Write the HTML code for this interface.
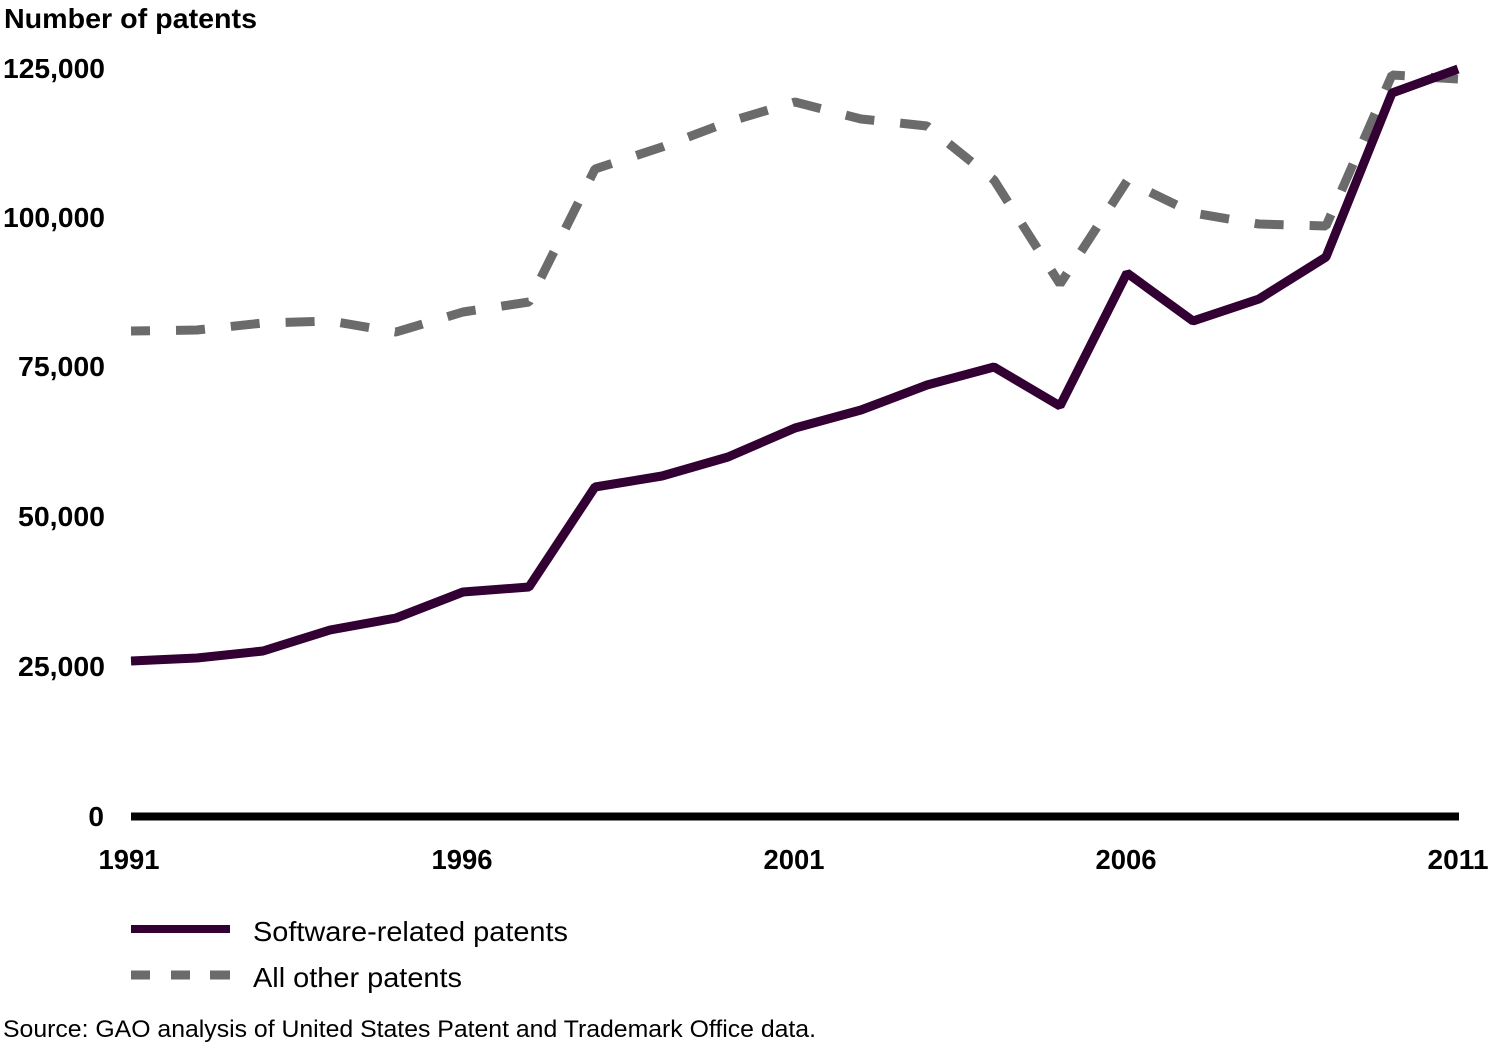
<!DOCTYPE html>
<html>
<head>
<meta charset="utf-8">
<style>
  html,body{margin:0;padding:0;background:#fff;}
  svg{display:block;}
  text{font-family:"Liberation Sans", Arial, sans-serif;fill:#000;}
  .b{font-weight:bold;font-size:28px;}
</style>
</head>
<body>
<svg width="1495" height="1046" viewBox="0 0 1495 1046" xmlns="http://www.w3.org/2000/svg">
  <rect x="0" y="0" width="1495" height="1046" fill="#fff"/>

  <!-- Title -->
  <text class="b" x="4" y="28" textLength="253" lengthAdjust="spacingAndGlyphs">Number of patents</text>

  <!-- Y axis labels -->
  <text class="b" x="105" y="78" text-anchor="end" textLength="102" lengthAdjust="spacingAndGlyphs">125,000</text>
  <text class="b" x="105" y="227" text-anchor="end" textLength="102" lengthAdjust="spacingAndGlyphs">100,000</text>
  <text class="b" x="105" y="376" text-anchor="end" textLength="87" lengthAdjust="spacingAndGlyphs">75,000</text>
  <text class="b" x="105" y="526" text-anchor="end" textLength="87" lengthAdjust="spacingAndGlyphs">50,000</text>
  <text class="b" x="105" y="676" text-anchor="end" textLength="87" lengthAdjust="spacingAndGlyphs">25,000</text>
  <text class="b" x="104" y="826" text-anchor="end">0</text>

  <!-- X axis labels -->
  <text class="b" x="129" y="869" text-anchor="middle" textLength="61" lengthAdjust="spacingAndGlyphs">1991</text>
  <text class="b" x="462" y="869" text-anchor="middle" textLength="61" lengthAdjust="spacingAndGlyphs">1996</text>
  <text class="b" x="794" y="869" text-anchor="middle" textLength="61" lengthAdjust="spacingAndGlyphs">2001</text>
  <text class="b" x="1126" y="869" text-anchor="middle" textLength="61" lengthAdjust="spacingAndGlyphs">2006</text>
  <text class="b" x="1458" y="869" text-anchor="middle" textLength="61" lengthAdjust="spacingAndGlyphs">2011</text>

  <!-- All other patents (dashed) -->
  <polyline fill="none" stroke="#6b6b6b" stroke-width="9" stroke-linejoin="bevel"
    stroke-dasharray="29 26" stroke-dashoffset="10"
    points="131,331 197,330 263,323 330,321 396,332 463,312 529,302 595,169 662,147 728,122 795,102 861,119 927,126 994,180 1060,284 1127,181 1193,213 1259,224 1326,226 1392,75 1458,79"/>

  <!-- Software-related patents (solid) -->
  <polyline fill="none" stroke="#320033" stroke-width="9" stroke-linejoin="bevel"
    points="131,661 197,658 263,651 330,630 396,618 463,592 529,587 595,487 662,476 728,457 795,428 861,410 927,385 994,367 1060,406 1127,273 1193,321 1259,299 1326,257 1392,93 1458,69"/>

  <!-- X axis -->
  <line x1="131" y1="816.5" x2="1459" y2="816.5" stroke="#000" stroke-width="8"/>

  <!-- Legend -->
  <line x1="131" y1="929" x2="230" y2="929" stroke="#320033" stroke-width="8"/>
  <text x="253" y="941" font-size="28" textLength="315" lengthAdjust="spacingAndGlyphs">Software-related patents</text>
  <line x1="131" y1="975" x2="150" y2="975" stroke="#6b6b6b" stroke-width="9"/>
  <line x1="171" y1="975" x2="190" y2="975" stroke="#6b6b6b" stroke-width="9"/>
  <line x1="210" y1="975" x2="230" y2="975" stroke="#6b6b6b" stroke-width="9"/>
  <text x="253" y="987" font-size="28" textLength="209" lengthAdjust="spacingAndGlyphs">All other patents</text>

  <!-- Source -->
  <text x="3" y="1037" font-size="24" textLength="813" lengthAdjust="spacingAndGlyphs">Source: GAO analysis of United States Patent and Trademark Office data.</text>
</svg>
</body>
</html>
